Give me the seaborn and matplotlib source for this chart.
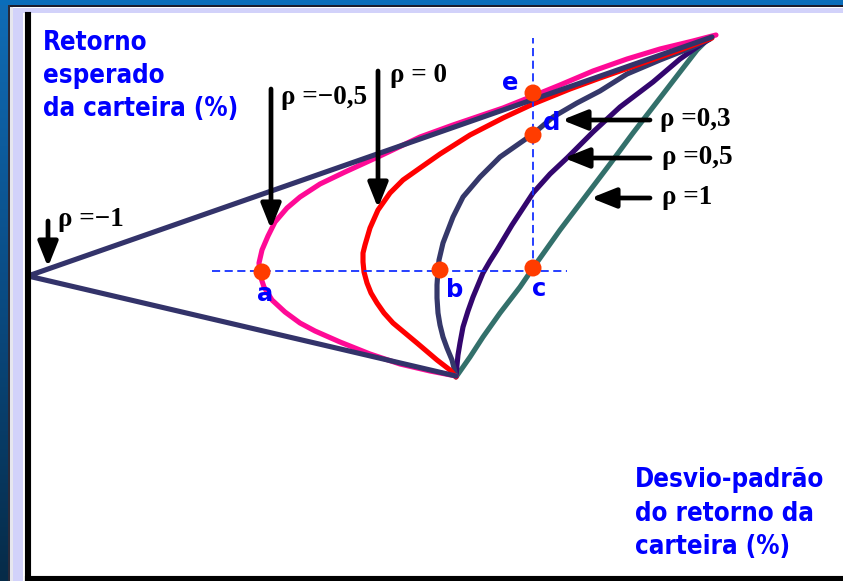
import numpy as np
import pandas as pd
import matplotlib
matplotlib.use("Agg")
import matplotlib.pyplot as plt
import seaborn as sns
from matplotlib.patches import Rectangle
from matplotlib.colors import LinearSegmentedColormap

# ---------------- data ----------------
# x = standard deviation of portfolio return, y = expected return (arbitrary % units)
sig_m1 = [42.8, 0.0, 68.4]
ret_m1 = [20.3, 30.3, 54.2]

sig_m05 = [42.8, 40.2, 37.2, 34.2, 31.2, 28.7, 27.2, 25.7, 24.4, 23.6, 23.2, 23.1, 23.4, 24.0,
           24.7, 25.9, 27.2, 29.2, 31.7, 35.2, 39.2, 42.5, 47.5, 50.5, 53.2, 56.5, 59.9, 63.2,
           66.5, 68.8]
ret_m05 = [20.3, 20.8, 21.5, 22.5, 23.7, 24.8, 25.6, 26.7, 27.9, 29.2, 30.4, 31.6, 32.9, 34.3,
           35.7, 37.1, 38.2, 39.5, 40.7, 42.3, 44.2, 45.4, 47.1, 48.3, 49.4, 50.8, 52.0, 53.0,
           53.8, 54.4]

sig_0 = [42.8, 42.2, 40.9, 38.9, 36.5, 35.6, 34.9, 34.3, 33.9, 33.6, 33.5, 33.5, 33.7, 34.2,
         35.0, 36.2, 37.5, 39.2, 41.2, 44.2, 47.5, 50.5, 54.2, 57.2, 61.2, 65.2, 68.4]
ret_0 = [20.2, 20.9, 21.9, 23.6, 25.6, 26.6, 27.6, 28.6, 29.6, 30.7, 31.7, 32.6, 33.4, 35.1,
         36.9, 38.6, 39.9, 41.1, 42.5, 44.4, 46.1, 47.5, 49.0, 50.1, 51.5, 52.9, 54.1]

sig_03 = [42.8, 42.4, 41.9, 41.5, 41.2, 41.0, 40.9, 40.9, 41.0, 41.1, 41.5, 42.0, 42.5, 43.5,
          45.2, 47.2, 49.2, 50.5, 52.5, 54.9, 57.2, 59.9, 63.2, 66.5, 68.2]
ret_03 = [20.3, 21.9, 23.1, 24.2, 25.4, 26.6, 28.1, 29.4, 30.9, 31.9, 33.6, 34.9, 36.2, 38.2,
          40.2, 42.2, 43.6, 44.5, 46.2, 47.6, 48.8, 50.5, 51.9, 53.2, 54.0]

sig_05 = [42.8, 42.9, 43.0, 43.2, 43.5, 44.0, 44.5, 45.0, 45.5, 46.2, 46.9, 48.4, 50.5, 52.2,
          53.9, 56.5, 59.2, 62.5, 65.2, 67.2, 68.2]
ret_05 = [20.3, 21.4, 22.4, 23.6, 25.2, 26.8, 28.2, 29.4, 30.6, 31.8, 32.9, 35.4, 38.6, 40.5,
          42.1, 44.7, 47.2, 49.7, 52.0, 53.4, 54.0]

sig_1 = [42.8, 44.2, 45.5, 47.2, 49.2, 50.5, 53.2, 55.7, 58.2, 60.5, 63.2, 65.2, 66.9, 67.9]
ret_1 = [20.2, 22.2, 24.2, 26.6, 29.2, 31.1, 34.9, 38.2, 41.5, 44.6, 48.1, 50.7, 52.9, 53.9]

# highlighted portfolios a..e
pt_names = ["a", "b", "c", "d", "e"]
pt_sig = [23.4, 41.2, 50.5, 50.5, 50.5]
pt_ret = [30.7, 30.9, 31.1, 44.4, 48.6]

# reference (dashed) lines
hline_ret = 30.8
hline_sig = [18.4, 53.9]
vline_sig = 50.5
vline_ret = [30.8, 54.1]

curve_keys = ["rho_1", "rho_05", "rho_03", "rho_0", "rho_m05", "rho_m1"]
curve_data = {
    "rho_m1": (sig_m1, ret_m1),
    "rho_m05": (sig_m05, ret_m05),
    "rho_0": (sig_0, ret_0),
    "rho_03": (sig_03, ret_03),
    "rho_05": (sig_05, ret_05),
    "rho_1": (sig_1, ret_1),
}
palette = {
    "rho_m1": "#33336A",
    "rho_m05": "#FF0A96",
    "rho_0": "#FF0000",
    "rho_03": "#35386A",
    "rho_05": "#33066E",
    "rho_1": "#33706B",
}

frames = []
for k in curve_keys:
    s, r = curve_data[k]
    frames.append(pd.DataFrame({"sigma": s, "ret": r, "curve": k}))
df = pd.concat(frames, ignore_index=True)

# ---------------- figure ----------------
sns.set_style("white")
plt.rcParams["font.family"] = ["DejaVu Sans"]

W, H = 843, 581
fig = plt.figure(figsize=(W / 100, H / 100), dpi=100)
fig.patch.set_facecolor("white")

# slide frame decoration (pixel coordinates)
bg = fig.add_axes([0, 0, 1, 1], zorder=0)
grad = np.linspace(0, 1, 256).reshape(-1, 1)
cmap = LinearSegmentedColormap.from_list("frame", ["#106CB6", "#0A4C84", "#062B48"])
bg.imshow(grad, extent=(0, 8, H, 0), aspect="auto", cmap=cmap)
bg.add_patch(Rectangle((0, 0), W, 5, color="#0A6DBA", lw=0))
bg.add_patch(Rectangle((8, 5), W - 8, 2, color="#1C1C2C", lw=0))
bg.add_patch(Rectangle((8, 5), 1.5, H, color="#2A2A3A", lw=0))
bg.add_patch(Rectangle((9.5, 7), 3.5, H, color="#E6E6EE", lw=0))
bg.add_patch(Rectangle((13, 8), 10, H, color="#D2D2FA", lw=0))
bg.add_patch(Rectangle((13, 8), W, 5, color="#D2D2FA", lw=0))
bg.set_xlim(0, W)
bg.set_ylim(H, 0)
bg.axis("off")

ax = fig.add_axes([28 / W, 2 / H, (W - 28) / W, 564 / H], zorder=1)
ax.patch.set_alpha(0)

sns.lineplot(data=df, x="sigma", y="ret", hue="curve", hue_order=curve_keys,
             palette=palette, units="curve", estimator=None, sort=False,
             linewidth=3.7, legend=False, ax=ax)
for ln in ax.lines:
    ln.set_solid_joinstyle("round")
    ln.set_solid_capstyle("round")

# dashed guide lines
ax.plot(hline_sig, [hline_ret, hline_ret], color="#1530FF", lw=1.3,
        dashes=(4.5, 2.5), zorder=3)
ax.plot([vline_sig, vline_sig], vline_ret, color="#1530FF", lw=1.3,
        dashes=(4.5, 2.5), zorder=3)

sns.scatterplot(x=pt_sig, y=pt_ret, s=150, color="#FF3C00", edgecolor="none",
                zorder=5, ax=ax, legend=False)

# point letters
letter_pos = {"a": (23.7, 28.5), "b": (42.7, 28.9), "c": (51.1, 29.0),
              "d": (52.4, 45.6), "e": (48.2, 49.6)}
for n in pt_names:
    x, y = letter_pos[n]
    ax.text(x, y, n, color="#0000FF", fontsize=17.5, fontweight="bold",
            ha="center", va="center", zorder=6)

# correlation labels with arrows
serif = ["Liberation Serif", "DejaVu Serif"]
arrow_kw = dict(arrowstyle="-|>,head_length=0.75,head_width=0.3", color="black",
                lw=3.4, shrinkA=0, shrinkB=0, mutation_scale=20)
labels = [
    ("ρ =−1", (2.0, 35.8), (2.0, 31.2), (3.0, 36.0), 19.5),
    ("ρ =−0,5", (24.3, 49.0), (24.3, 35.0), (25.3, 48.2), 19.5),
    ("ρ = 0", (35.0, 50.8), (35.0, 37.1), (36.2, 50.3), 19.5),
    ("ρ =0,3", (62.2, 45.9), (53.4, 45.9), (63.2, 45.9), 19.5),
    ("ρ =0,5", (62.2, 42.1), (53.6, 42.1), (63.4, 42.1), 19.5),
    ("ρ =1", (62.2, 38.1), (56.3, 38.1), (63.4, 38.1), 19.5),
]
for txt, start, end, tpos, fs in labels:
    ax.annotate("", xy=end, xytext=start, arrowprops=arrow_kw, zorder=6)
    ax.text(tpos[0], tpos[1], txt, family=serif, fontweight="bold", fontsize=fs,
            ha="left", va="center", color="black", zorder=6)

# axis titles (one text per line for exact line pitch)
title_kw = dict(color="#0000FF", fontsize=18.5, fontweight="bold", fontstretch="condensed",
                ha="left", va="baseline")
for line, yb in zip(["Retorno", "esperado", "da carteira (%)"], [52.9, 49.6, 46.3]):
    ax.text(1.5, yb, line, **title_kw)
for line, yb in zip(["Desvio-padrão", "do retorno da", "carteira (%)"], [9.2, 5.8, 2.5]):
    ax.text(60.7, yb, line, **title_kw)

ax.set_xlim(0, (W - 28) / 10)
ax.set_ylim(0, 56.4)
ax.set_xticks([])
ax.set_yticks([])
ax.set_xlabel("")
ax.set_ylabel("")
for s in ["top", "right"]:
    ax.spines[s].set_visible(False)
for s in ["left", "bottom"]:
    ax.spines[s].set_color("black")
    ax.spines[s].set_linewidth(4.4)

fig.savefig("out.png", dpi=100)
